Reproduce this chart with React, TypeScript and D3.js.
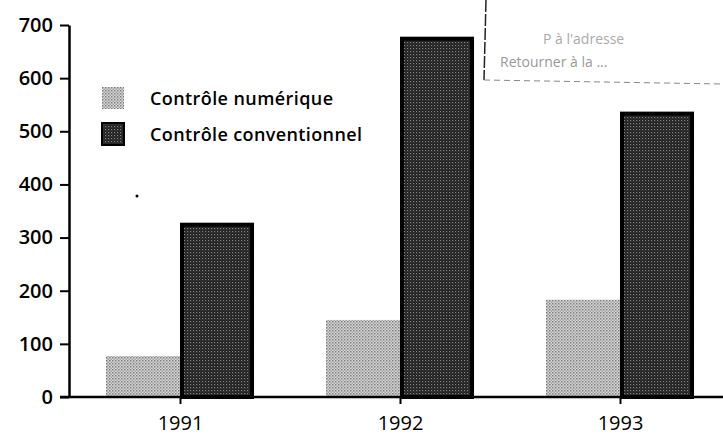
import React, { useEffect, useRef } from "react";
import * as d3 from "d3";

const years = ["1991", "1992", "1993"];
const numerique = [77, 145, 183];
const conventionnel = [328, 678, 537];
const seriesNames = ["Contrôle numérique", "Contrôle conventionnel"];
const yTicks = [0, 100, 200, 300, 400, 500, 600, 700];

const width = 723;
const height = 438;
const FONT = "'Open Sans', 'Noto Sans', sans-serif";

export default function App() {
  const svgRef = useRef<SVGSVGElement>(null);

  useEffect(() => {
    const svg = d3.select(svgRef.current);
    svg.selectAll("*").remove();

    // halftone patterns, like the scanned print
    const defs = svg.append("defs");
    const light = defs
      .append("pattern")
      .attr("id", "light")
      .attr("width", 3)
      .attr("height", 3)
      .attr("patternUnits", "userSpaceOnUse");
    light.append("rect").attr("width", 3).attr("height", 3).attr("fill", "#dcdcdc");
    light.append("rect").attr("width", 1.5).attr("height", 1.5).attr("fill", "#7a7a7a");
    light.append("rect").attr("x", 1.5).attr("y", 1.5).attr("width", 1.5).attr("height", 1.5).attr("fill", "#a0a0a0");

    const dark = defs
      .append("pattern")
      .attr("id", "dark")
      .attr("width", 3)
      .attr("height", 3)
      .attr("patternUnits", "userSpaceOnUse");
    dark.append("rect").attr("width", 3).attr("height", 3).attr("fill", "#1c1c1c");
    dark.append("rect").attr("width", 1.2).attr("height", 1.2).attr("fill", "#8a8a8a");
    dark.append("rect").attr("x", 1.5).attr("y", 1.5).attr("width", 1).attr("height", 1).attr("fill", "#5a5a5a");

    const y = d3.scaleLinear().domain([0, 700]).range([397, 25]);
    const x = d3
      .scaleBand()
      .domain(years)
      .range([70, 730])
      .paddingInner(0.327)
      .paddingOuter(0.1635);
    const xSub = d3.scaleBand().domain(seriesNames).range([0, x.bandwidth()]);

    const data = years.map((yr, i) => ({
      year: yr,
      values: [numerique[i], conventionnel[i]],
    }));

    // bars
    const groups = svg
      .append("g")
      .selectAll("g")
      .data(data)
      .enter()
      .append("g")
      .attr("transform", (d) => `translate(${x(d.year)},0)`);

    groups
      .selectAll("rect")
      .data((d) => d.values.map((v, j) => ({ v, name: seriesNames[j], j })))
      .enter()
      .append("rect")
      .attr("x", (d) => xSub(d.name)! + (d.j === 1 ? 2 : 0))
      .attr("y", (d) => y(d.v) + (d.j === 1 ? 2 : 0))
      .attr("width", (d) => xSub.bandwidth() - (d.j === 1 ? 4 : 0))
      .attr("height", (d) => y(0) - y(d.v) - (d.j === 1 ? 2 : 0))
      .attr("fill", (d) => (d.j === 0 ? "url(#light)" : "url(#dark)"))
      .attr("stroke", (d) => (d.j === 1 ? "#000" : "none"))
      .attr("stroke-width", 4);

    // y axis
    const yAxis = svg
      .append("g")
      .attr("transform", "translate(69,0)")
      .call(d3.axisLeft(y).tickValues(yTicks).tickSize(9).tickPadding(7).tickSizeOuter(0));
    yAxis.select(".domain").attr("stroke", "#000").attr("stroke-width", 2.5);
    yAxis.selectAll(".tick line").attr("stroke", "#000").attr("stroke-width", 2);
    yAxis
      .selectAll(".tick text")
      .attr("fill", "#000")
      .attr("font-family", FONT)
      .attr("font-size", 20)
      .attr("font-weight", 600);

    // x axis
    const xAxis = svg
      .append("g")
      .attr("transform", `translate(0,${y(0)})`)
      .call(
        d3
          .axisBottom(d3.scalePoint().domain(years).range([x("1991")! + x.bandwidth() / 2, x("1993")! + x.bandwidth() / 2]))
          .tickSize(7)
          .tickPadding(12)
          .tickSizeOuter(0)
      );
    xAxis.select(".domain").remove();
    xAxis.selectAll(".tick line").attr("stroke", "#000").attr("stroke-width", 2);
    xAxis
      .selectAll(".tick text")
      .attr("fill", "#000")
      .attr("font-family", FONT)
      .attr("font-size", 20)
      .attr("font-weight", 500);
    svg
      .append("line")
      .attr("x1", 60)
      .attr("x2", width)
      .attr("y1", y(0))
      .attr("y2", y(0))
      .attr("stroke", "#000")
      .attr("stroke-width", 2.5);

    // legend
    const legend = svg
      .append("g")
      .selectAll("g")
      .data(seriesNames)
      .enter()
      .append("g")
      .attr("transform", (d, i) => `translate(102,${87 + i * 36})`);
    legend
      .append("rect")
      .attr("width", 22)
      .attr("height", 22)
      .attr("fill", (d, i) => (i === 0 ? "url(#light)" : "url(#dark)"))
      .attr("stroke", (d, i) => (i === 1 ? "#000" : "none"))
      .attr("stroke-width", 2);
    legend
      .append("text")
      .attr("x", 48)
      .attr("y", 18)
      .attr("font-family", FONT)
      .attr("font-size", 18)
      .attr("font-weight", 600)
      .attr("fill", "#000")
      .attr("textLength", (d, i) => (i === 0 ? 183 : 212))
      .text((d) => d);

    // stray dot from the scan
    svg.append("circle").attr("cx", 137).attr("cy", 196).attr("r", 1.5).attr("fill", "#000");

    // faded stamp, top right
    const stamp = svg.append("g");
    stamp
      .append("line")
      .attr("x1", 486)
      .attr("x2", 484)
      .attr("y1", 0)
      .attr("y2", 80)
      .attr("stroke", "#222")
      .attr("stroke-width", 1.5)
      .attr("stroke-dasharray", "12 2");
    stamp
      .append("line")
      .attr("x1", 484)
      .attr("x2", width)
      .attr("y1", 80)
      .attr("y2", 84)
      .attr("stroke", "#888")
      .attr("stroke-width", 1)
      .attr("stroke-dasharray", "6 4");
    stamp
      .append("text")
      .attr("x", 543)
      .attr("y", 44)
      .attr("font-family", FONT)
      .attr("font-size", 14)
      .attr("fill", "#aaa")
      .text("P  à  l'adresse");
    stamp
      .append("text")
      .attr("x", 500)
      .attr("y", 67)
      .attr("font-family", FONT)
      .attr("font-size", 14)
      .attr("fill", "#999")
      .text("Retourner à la ...");
  }, []);

  return (
    <div style={{ position: "fixed", left: 0, top: 0 }}>
      <svg ref={svgRef} width={width} height={height} style={{ display: "block", background: "#fff" }} />
    </div>
  );
}
